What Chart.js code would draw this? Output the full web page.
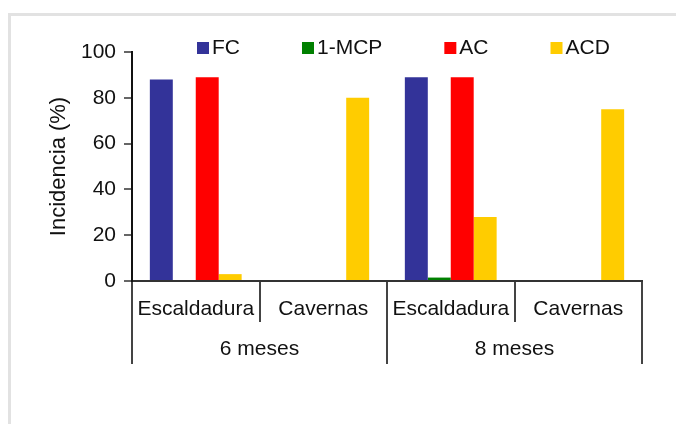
<!DOCTYPE html>
<html>
<head>
<meta charset="utf-8">
<script src="https://cdn.jsdelivr.net/npm/chart.js@4/dist/chart.umd.min.js"></script>
<style>
  html, body { margin: 0; padding: 0; background: #fff; overflow: hidden; }
  #frame { position: absolute; left: 8px; top: 13px; width: 800px; height: 600px;
           border-top: 3px solid #e2e2e2; border-left: 3px solid #e2e2e2; }
  #wrap { position: absolute; left: 0; top: 0; width: 676px; height: 424px; }
</style>
</head>
<body>
<div id="frame"></div>
<div id="wrap"><canvas id="c" width="676" height="424"></canvas></div>
<script>
// Defect type by storage period
const categories = ['Escaldadura', 'Cavernas', 'Escaldadura', 'Cavernas'];
const periods = ['6 meses', '8 meses'];
const seriesNames = ['FC', '1-MCP', 'AC', 'ACD'];
const fcValues = [88, 0, 89, 0];
const mcpValues = [0, 0, 1.5, 0];
const acValues = [89, 0, 89, 0];
const acdValues = [3, 80, 28, 75];
const yTicks = [0, 20, 40, 60, 80, 100];

const colors = ['#333399', '#008000', '#ff0000', '#ffcc00'];
const FONT = "'Liberation Sans', Arial, sans-serif";

// Legend drawn as a single row: small square then its label
const rowLegend = {
  id: 'rowLegend',
  afterDraw(chart, args, opts) {
    const ctx = chart.ctx;
    ctx.save();
    ctx.font = opts.fontSize + 'px ' + FONT;
    ctx.textBaseline = 'middle';
    let x = opts.x;
    chart.data.datasets.forEach(ds => {
      ctx.fillStyle = ds.backgroundColor;
      ctx.fillRect(x, opts.y - opts.box / 2, opts.box, opts.box);
      x += opts.box + opts.textGap;
      ctx.fillStyle = '#111';
      ctx.fillText(ds.label, x, opts.y);
      x += ctx.measureText(ds.label).width + opts.itemGap;
    });
    ctx.restore();
  }
};

const values = [fcValues, mcpValues, acValues, acdValues];

new Chart(document.getElementById('c'), {
  type: 'bar',
  data: {
    labels: categories,
    datasets: seriesNames.map((name, i) => ({
      label: name,
      data: values[i],
      backgroundColor: colors[i],
      borderWidth: 0,
      categoryPercentage: 0.72,
      barPercentage: 1.0
    }))
  },
  options: {
    responsive: false,
    animation: false,
    layout: { padding: { left: 0, top: 52, right: 34, bottom: 60 } },
    plugins: {
      legend: { display: false },
      tooltip: { enabled: false },
      rowLegend: { x: 197, y: 48, box: 12, textGap: 3, itemGap: 62, fontSize: 21 }
    },
    scales: {
      x: {
        type: 'category',
        position: 'bottom',
        afterFit(s) { s.height = 41; },
        grid: { offset: true, drawOnChartArea: false, drawTicks: true, tickLength: 41,
                color: '#444', lineWidth: 2 },
        border: { display: true, color: '#333', width: 2 },
        ticks: { color: '#111', font: { family: FONT, size: 21 }, padding: -25, maxRotation: 0, autoSkip: false }
      },
      x2: {
        type: 'category',
        position: 'bottom',
        labels: periods,
        afterFit(s) { s.height = 42; },
        grid: { offset: true, drawOnChartArea: false, drawTicks: true, tickLength: 42,
                color: '#444', lineWidth: 2 },
        border: { display: false },
        ticks: { color: '#111', font: { family: FONT, size: 21 }, padding: -27, maxRotation: 0, autoSkip: false }
      },
      y: {
        min: 0, max: 100,
        afterFit(s) { s.width = 132; },
        afterBuildTicks(s) { s.ticks = yTicks.map(v => ({ value: v })); },
        grid: { drawOnChartArea: false, drawTicks: true, tickLength: 8, color: '#666', lineWidth: 2 },
        border: { display: true, color: '#111', width: 2 },
        ticks: { color: '#111', font: { family: FONT, size: 21 }, padding: 8 },
        title: { display: true, text: 'Incidencia (%)', color: '#111',
                 font: { family: FONT, size: 22 }, padding: { top: 46, bottom: 0 } }
      }
    }
  },
  plugins: [rowLegend]
});
</script>
</body>
</html>
